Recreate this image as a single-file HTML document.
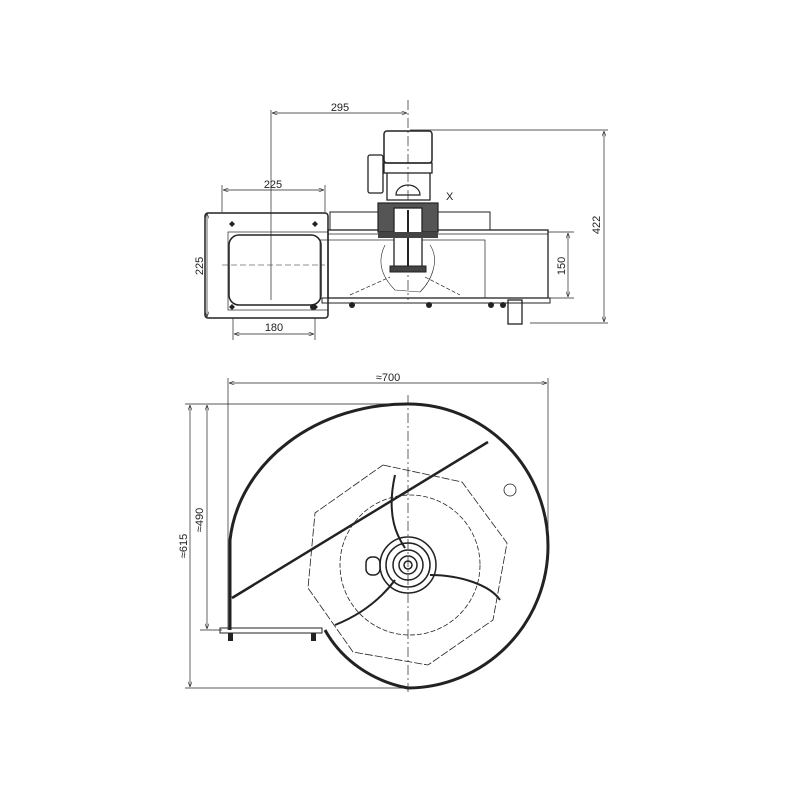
<!DOCTYPE html>
<html><head><style>html,body{margin:0;padding:0;background:#fff}svg{display:block}</style></head>
<body>
<svg width="800" height="800" viewBox="0 0 800 800" xmlns="http://www.w3.org/2000/svg" font-family="Liberation Sans, sans-serif" font-size="10" fill="none" stroke="#222">
<defs><marker id="a" markerWidth="8" markerHeight="6" refX="8" refY="3" orient="auto-start-reverse"><path d="M0,0 L8,3 L0,6" fill="none" stroke="#222" stroke-width="0.8"/></marker></defs>
<g stroke-width="1">
<line x1="271" y1="110" x2="271" y2="300" stroke-width="0.7"/>
<line x1="272" y1="113" x2="407" y2="113" stroke-width="0.7" marker-start="url(#a)" marker-end="url(#a)"/>
<line x1="408" y1="100" x2="408" y2="300" stroke-width="0.7" stroke-dasharray="10,3,2,3"/>
<line x1="222" y1="185" x2="222" y2="212" stroke-width="0.7"/>
<line x1="325" y1="185" x2="325" y2="212" stroke-width="0.7"/>
<line x1="223" y1="190" x2="324" y2="190" stroke-width="0.7" marker-start="url(#a)" marker-end="url(#a)"/>
<line x1="207" y1="213" x2="207" y2="317" stroke-width="0.7" marker-start="url(#a)" marker-end="url(#a)"/>
<line x1="233" y1="318" x2="233" y2="340" stroke-width="0.7"/>
<line x1="315" y1="318" x2="315" y2="340" stroke-width="0.7"/>
<line x1="234" y1="334" x2="314" y2="334" stroke-width="0.7" marker-start="url(#a)" marker-end="url(#a)"/>
<line x1="410" y1="130" x2="608" y2="130" stroke-width="0.7"/>
<line x1="530" y1="323" x2="608" y2="323" stroke-width="0.7"/>
<line x1="604" y1="131" x2="604" y2="322" stroke-width="0.7" marker-start="url(#a)" marker-end="url(#a)"/>
<line x1="548" y1="232" x2="574" y2="232" stroke-width="0.7"/>
<line x1="548" y1="298" x2="574" y2="298" stroke-width="0.7"/>
<line x1="568" y1="233" x2="568" y2="297" stroke-width="0.7" marker-start="url(#a)" marker-end="url(#a)"/>
<rect x="205" y="213" width="123" height="105" rx="3" stroke-width="1.5"/>
<rect x="229" y="235" width="92" height="70" rx="10" stroke-width="1.5"/>
<rect x="228" y="232" width="100" height="78" stroke-width="0.7"/>
<line x1="222" y1="265" x2="325" y2="265" stroke-width="0.6" stroke-dasharray="6,3"/>
<g fill="#222" stroke="none"><path d="M232 221l3 3-3 3-3-3z"/><path d="M315 221l3 3-3 3-3-3z"/><path d="M232 304l3 3-3 3-3-3z"/><path d="M315 304l3 3-3 3-3-3z"/></g>
<rect x="328" y="230" width="220" height="68" stroke-width="1.3"/>
<line x1="328" y1="234" x2="548" y2="234" stroke-width="0.8"/>
<rect x="322" y="298" width="228" height="5" stroke-width="1"/>
<rect x="330" y="212" width="160" height="18" stroke-width="1"/>
<rect x="320" y="240" width="165" height="58" stroke-width="0.7"/>
<path d="M350 295 L390 277 M425 277 L460 295" stroke-width="0.7" stroke-dasharray="4,2"/>
<path d="M385 245 C375 265,385 280,395 290 L420 292 C432 280,440 260,430 245" stroke-width="0.6"/>
<rect x="384" y="131" width="48" height="32" rx="3" stroke-width="1.5"/>
<rect x="384" y="163" width="48" height="10" stroke-width="1.3"/>
<path d="M387 173 L387 200 L430 200 L430 173" stroke-width="1.3"/>
<rect x="368" y="155" width="15" height="38" rx="2" stroke-width="1.3"/>
<path d="M396 195 A12 10 0 0 1 420 195 Z" stroke-width="1.2"/>
<rect x="378" y="203" width="60" height="29" fill="#555" stroke-width="1.2"/>
<rect x="394" y="208" width="28" height="60" fill="#fff" stroke-width="1.3"/>
<line x1="408" y1="210" x2="408" y2="272" stroke-width="2"/>
<rect x="390" y="266" width="36" height="6" fill="#444"/>
<rect x="378" y="232" width="60" height="6" fill="#444" stroke="none"/>
<rect x="508" y="300" width="14" height="24" stroke-width="1.3"/>
<g fill="#222" stroke="none"><circle cx="352" cy="305" r="3"/><circle cx="429" cy="305" r="3"/><circle cx="491" cy="305" r="3"/><circle cx="503" cy="305" r="3"/><circle cx="313" cy="307" r="3"/></g>
</g>
<g fill="#222" stroke="none" font-size="11">
<text x="340" y="111" text-anchor="middle">295</text>
<text x="273" y="188" text-anchor="middle">225</text>
<text x="274" y="331" text-anchor="middle">180</text>
<text x="446" y="200">X</text>
<text transform="translate(203,266) rotate(-90)" text-anchor="middle">225</text>
<text transform="translate(565,266) rotate(-90)" text-anchor="middle">150</text>
<text transform="translate(600,225) rotate(-90)" text-anchor="middle">422</text>
<text x="388" y="381" text-anchor="middle">≈700</text>
<text transform="translate(187,546) rotate(-90)" text-anchor="middle">≈615</text>
<text transform="translate(203,520) rotate(-90)" text-anchor="middle">≈490</text>
</g>
<g stroke-width="0.7">
<line x1="228" y1="378" x2="228" y2="630"/>
<line x1="548" y1="378" x2="548" y2="545"/>
<line x1="229" y1="383" x2="547" y2="383" marker-start="url(#a)" marker-end="url(#a)"/>
<line x1="185" y1="404" x2="408" y2="404"/>
<line x1="185" y1="688" x2="410" y2="688"/>
<line x1="200" y1="630" x2="222" y2="630"/>
<line x1="190" y1="405" x2="190" y2="687" marker-start="url(#a)" marker-end="url(#a)"/>
<line x1="207" y1="405" x2="207" y2="629" marker-start="url(#a)" marker-end="url(#a)"/>
<line x1="408" y1="395" x2="408" y2="692" stroke-dasharray="10,3,2,3"/>
</g>
<path d="M230 630 L230 540 A178 150 0 0 1 408 404 A140 142 0 0 1 548 546 A141 142 0 0 1 408 688 A120 110 0 0 1 325 630" stroke-width="3"/>
<rect x="220" y="628" width="102" height="5" stroke-width="1"/>
<g fill="#222" stroke="none"><rect x="228" y="633" width="5" height="8"/><rect x="311" y="633" width="5" height="8"/></g>
<line x1="232" y1="598" x2="488" y2="442" stroke-width="2.5"/>
<g stroke-width="0.8">
<polygon points="383,465 462,482 507,543 493,620 428,665 353,652 308,588 315,513" stroke-dasharray="8,2"/>
<circle cx="410" cy="565" r="70" stroke-dasharray="5,2"/>
<path d="M395 475 C385 520,400 540,405 548" stroke-width="2"/>
<path d="M430 575 C460 575,490 585,500 600" stroke-width="2"/>
<path d="M395 580 C380 600,360 615,335 625" stroke-width="2"/>
<circle cx="510" cy="490" r="6"/>
</g>
<g stroke-width="1.5">
<circle cx="408" cy="565" r="28"/><circle cx="408" cy="565" r="22"/><circle cx="408" cy="565" r="15"/><circle cx="408" cy="565" r="9"/><circle cx="408" cy="565" r="4"/>
<rect x="366" y="557" width="14" height="18" rx="6"/>
</g>
</svg>
</body></html>
